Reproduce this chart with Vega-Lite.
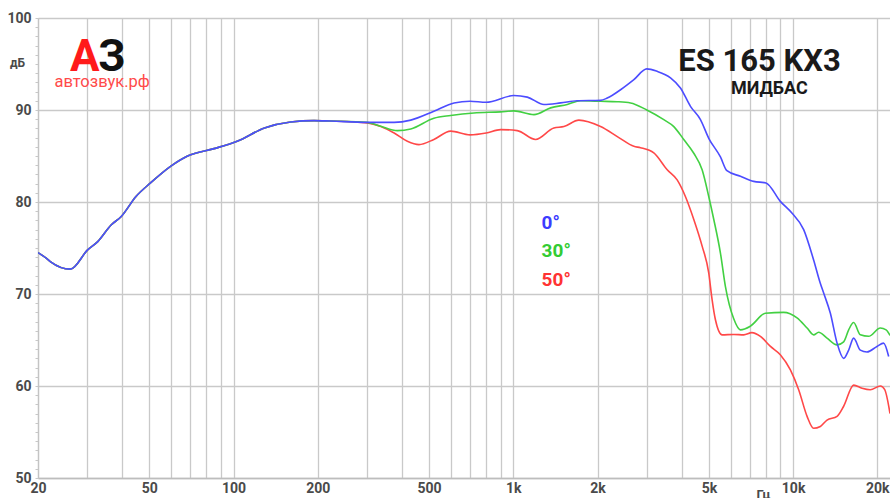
{
  "$schema": "https://vega.github.io/schema/vega-lite/v6.json",
  "width": 852,
  "height": 460,
  "autosize": {"type": "none"},
  "padding": {"left": 38, "top": 18, "right": 0, "bottom": 20},
  "background": "white",
  "config": {"view": {"stroke": null}, "font": "Roboto"},
  "datasets": {
    "deg0": [
      {"f": 20, "db": 74.5}, {"f": 21.4, "db": 73.9}, {"f": 22.2, "db": 73.5}, {"f": 26.1, "db": 72.7},
      {"f": 30.1, "db": 74.8}, {"f": 32.7, "db": 75.7}, {"f": 36.5, "db": 77.5}, {"f": 39.6, "db": 78.4},
      {"f": 44.8, "db": 80.6}, {"f": 50.6, "db": 82.1}, {"f": 59.7, "db": 83.9}, {"f": 68.5, "db": 85.0},
      {"f": 85.2, "db": 85.8}, {"f": 103, "db": 86.6}, {"f": 129, "db": 88.05}, {"f": 160, "db": 88.7},
      {"f": 194, "db": 88.85}, {"f": 222, "db": 88.8}, {"f": 300, "db": 88.66}, {"f": 375, "db": 88.66},
      {"f": 430, "db": 88.9}, {"f": 520, "db": 89.86}, {"f": 614, "db": 90.77}, {"f": 700, "db": 90.95},
      {"f": 800, "db": 90.84}, {"f": 1004, "db": 91.57}, {"f": 1122, "db": 91.4}, {"f": 1286, "db": 90.6},
      {"f": 1476, "db": 90.77}, {"f": 1692, "db": 91.0}, {"f": 2050, "db": 91.05}, {"f": 2166, "db": 91.3},
      {"f": 2417, "db": 92.2}, {"f": 2697, "db": 93.3}, {"f": 3000, "db": 94.47}, {"f": 3267, "db": 94.2},
      {"f": 3646, "db": 93.5}, {"f": 3957, "db": 92.4}, {"f": 4297, "db": 90.4}, {"f": 4665, "db": 88.96},
      {"f": 5000, "db": 86.9}, {"f": 5499, "db": 84.9}, {"f": 5800, "db": 83.4},
      {"f": 6483, "db": 82.8}, {"f": 7230, "db": 82.24}, {"f": 8000, "db": 82.07}, {"f": 9000, "db": 80.07},
      {"f": 9900, "db": 78.8}, {"f": 10910, "db": 77.0}, {"f": 11840, "db": 73.7}, {"f": 12500, "db": 71.2},
      {"f": 12860, "db": 70.1}, {"f": 13590, "db": 67.9}, {"f": 14360, "db": 64.66}, {"f": 15160, "db": 63.0},
      {"f": 15800, "db": 63.9}, {"f": 16460, "db": 65.2}, {"f": 17390, "db": 63.9}, {"f": 18370, "db": 63.7},
      {"f": 19950, "db": 64.3}, {"f": 21060, "db": 64.66}, {"f": 21960, "db": 63.2}
    ],
    "deg30": [
      {"f": 20, "db": 74.5}, {"f": 21.4, "db": 73.9}, {"f": 22.2, "db": 73.5}, {"f": 26.1, "db": 72.7},
      {"f": 30.1, "db": 74.8}, {"f": 32.7, "db": 75.7}, {"f": 36.5, "db": 77.5}, {"f": 39.6, "db": 78.4},
      {"f": 44.8, "db": 80.6}, {"f": 50.6, "db": 82.1}, {"f": 59.7, "db": 83.9}, {"f": 68.5, "db": 85.0},
      {"f": 85.2, "db": 85.8}, {"f": 103, "db": 86.6}, {"f": 129, "db": 88.05}, {"f": 160, "db": 88.7},
      {"f": 194, "db": 88.85}, {"f": 222, "db": 88.8}, {"f": 300, "db": 88.66}, {"f": 336, "db": 88.23},
      {"f": 385, "db": 87.76}, {"f": 430, "db": 87.94}, {"f": 520, "db": 89.1}, {"f": 597, "db": 89.4},
      {"f": 723, "db": 89.68}, {"f": 901, "db": 89.8}, {"f": 1004, "db": 89.9}, {"f": 1185, "db": 89.5},
      {"f": 1359, "db": 90.23}, {"f": 1559, "db": 90.6}, {"f": 1738, "db": 91.0}, {"f": 2050, "db": 90.95},
      {"f": 2350, "db": 90.9}, {"f": 2624, "db": 90.77}, {"f": 3000, "db": 90.0}, {"f": 3450, "db": 88.95},
      {"f": 3746, "db": 88.2}, {"f": 4066, "db": 86.8}, {"f": 4416, "db": 85.3}, {"f": 4730, "db": 83.5},
      {"f": 4994, "db": 80.6}, {"f": 5206, "db": 78.1}, {"f": 5499, "db": 74.45}, {"f": 5730, "db": 70.8},
      {"f": 6135, "db": 67.3}, {"f": 6483, "db": 66.1},
      {"f": 7034, "db": 66.5}, {"f": 7960, "db": 67.9}, {"f": 9250, "db": 68.0}, {"f": 10330, "db": 67.4},
      {"f": 11220, "db": 66.3}, {"f": 11840, "db": 65.56}, {"f": 12340, "db": 65.85}, {"f": 13220, "db": 65.2},
      {"f": 14360, "db": 64.47}, {"f": 15160, "db": 64.8}, {"f": 15800, "db": 66.1}, {"f": 16460, "db": 66.9},
      {"f": 17390, "db": 65.56}, {"f": 18620, "db": 65.4}, {"f": 20500, "db": 66.3}, {"f": 21500, "db": 66.1},
      {"f": 22200, "db": 65.5}
    ],
    "deg50": [
      {"f": 20, "db": 74.5}, {"f": 21.4, "db": 73.9}, {"f": 22.2, "db": 73.5}, {"f": 26.1, "db": 72.7},
      {"f": 30.1, "db": 74.8}, {"f": 32.7, "db": 75.7}, {"f": 36.5, "db": 77.5}, {"f": 39.6, "db": 78.4},
      {"f": 44.8, "db": 80.6}, {"f": 50.6, "db": 82.1}, {"f": 59.7, "db": 83.9}, {"f": 68.5, "db": 85.0},
      {"f": 85.2, "db": 85.8}, {"f": 103, "db": 86.6}, {"f": 129, "db": 88.05}, {"f": 160, "db": 88.7},
      {"f": 194, "db": 88.85}, {"f": 222, "db": 88.8}, {"f": 300, "db": 88.6}, {"f": 336, "db": 88.2},
      {"f": 375, "db": 87.5}, {"f": 418, "db": 86.6}, {"f": 460, "db": 86.24}, {"f": 520, "db": 86.8},
      {"f": 597, "db": 87.7}, {"f": 700, "db": 87.3}, {"f": 800, "db": 87.5}, {"f": 901, "db": 87.87},
      {"f": 1033, "db": 87.76}, {"f": 1201, "db": 86.8}, {"f": 1396, "db": 88.05}, {"f": 1517, "db": 88.2},
      {"f": 1715, "db": 88.9}, {"f": 2050, "db": 88.2}, {"f": 2383, "db": 87.0}, {"f": 2697, "db": 86.05},
      {"f": 2848, "db": 85.9}, {"f": 3178, "db": 85.33}, {"f": 3548, "db": 83.5}, {"f": 3851, "db": 82.4},
      {"f": 4121, "db": 80.6}, {"f": 4416, "db": 78.1}, {"f": 4730, "db": 75.2}, {"f": 4994, "db": 72.3},
      {"f": 5134, "db": 69.4}, {"f": 5277, "db": 67.2}, {"f": 5576, "db": 65.56}, {"f": 6135, "db": 65.6}, {"f": 6660, "db": 65.56},
      {"f": 7120, "db": 65.8}, {"f": 7640, "db": 65.4}, {"f": 8300, "db": 64.3}, {"f": 9000, "db": 63.4},
      {"f": 9780, "db": 61.75}, {"f": 10470, "db": 59.6}, {"f": 11220, "db": 56.7}, {"f": 11840, "db": 55.4},
      {"f": 12510, "db": 55.6}, {"f": 13220, "db": 56.3}, {"f": 14360, "db": 56.7}, {"f": 15160, "db": 57.8},
      {"f": 16460, "db": 60.1}, {"f": 17640, "db": 59.76}, {"f": 18880, "db": 59.6}, {"f": 20500, "db": 60.0},
      {"f": 21260, "db": 59.6}, {"f": 22200, "db": 57.0}
    ],
    "one": [{}]
  },
  "layer": [
    {
      "data": {"name": "deg50"},
      "mark": {"type": "line", "color": "#ff4848", "strokeWidth": 1.6, "interpolate": "monotone", "clip": true},
      "encoding": {
        "x": {
          "field": "f", "type": "quantitative",
          "scale": {"type": "log", "domain": [20, 22200], "nice": false},
          "axis": {
            "values": [20, 30, 40, 50, 60, 70, 80, 90, 100, 200, 300, 400, 500, 600, 700, 800, 900, 1000, 2000, 3000, 4000, 5000, 6000, 7000, 8000, 9000, 10000, 20000],
            "tickCount": 1000,
            "labelExpr": "indexof([20,50,100,200,500], datum.value) >= 0 ? '' + datum.value : (indexof([1000,2000,5000,10000,20000], datum.value) >= 0 ? (datum.value/1000) + 'k' : '')",
            "labelOverlap": false,
            "labelBound": false,
            "labelFlush": false,
            "labelFont": "Roboto",
            "labelFontSize": 14,
            "labelFontWeight": "bold",
            "labelColor": "#4a4a4a",
            "labelPadding": 3,
            "ticks": false,
            "grid": true,
            "gridColor": "#c9c9c9",
            "gridWidth": 1.3,
            "domainColor": "#bdbdbd",
            "domainWidth": 1.5,
            "title": "Гц",
            "titleFont": "Roboto",
            "titleFontSize": 13,
            "titleFontWeight": "bold",
            "titleColor": "#4a4a4a",
            "titleX": 725,
            "titleY": 10,
            "titleAlign": "center",
            "titleBaseline": "top"
          }
        },
        "y": {
          "field": "db", "type": "quantitative",
          "scale": {"domain": [50, 100], "nice": false, "zero": false},
          "axis": {
            "values": [50, 51, 52, 53, 54, 55, 56, 57, 58, 59, 60, 61, 62, 63, 64, 65, 66, 67, 68, 69, 70, 71, 72, 73, 74, 75, 76, 77, 78, 79, 80, 81, 82, 83, 84, 85, 86, 87, 88, 89, 90, 91, 92, 93, 94, 95, 96, 97, 98, 99, 100],
            "tickCount": 1000,
            "labelExpr": "datum.value % 10 === 0 ? '' + datum.value : ''",
            "labelOverlap": false,
            "labelBound": false,
            "labelFont": "Roboto",
            "labelFontSize": 14,
            "labelFontWeight": "bold",
            "labelColor": "#4a4a4a",
            "labelPadding": 4,
            "ticks": true,
            "tickSize": 3,
            "tickColor": "#c8c8c8",
            "tickWidth": 1,
            "grid": true,
            "gridColor": "#c9c9c9",
            "gridWidth": 1.3,
            "gridOpacity": {"condition": {"test": "datum.value % 10 === 0", "value": 1}, "value": 0},
            "domainColor": "#c4c4c4",
            "domainWidth": 1.2,
            "title": "дБ",
            "titleFont": "Roboto",
            "titleFontSize": 12,
            "titleFontWeight": "bold",
            "titleColor": "#4a4a4a",
            "titleAngle": 0,
            "titleX": -21,
            "titleY": 44,
            "titleAlign": "center",
            "titleBaseline": "middle"
          }
        }
      }
    },
    {
      "data": {"name": "deg30"},
      "mark": {"type": "line", "color": "#42d042", "strokeWidth": 1.6, "interpolate": "monotone", "clip": true},
      "encoding": {
        "x": {"field": "f", "type": "quantitative"},
        "y": {"field": "db", "type": "quantitative"}
      }
    },
    {
      "data": {"name": "deg0"},
      "mark": {"type": "line", "color": "#4c4cff", "strokeWidth": 1.6, "interpolate": "monotone", "clip": true},
      "encoding": {
        "x": {"field": "f", "type": "quantitative"},
        "y": {"field": "db", "type": "quantitative"}
      }
    },
    {
      "data": {"name": "one"},
      "mark": {"type": "text", "text": "0°", "font": "Roboto", "fontSize": 19, "fontWeight": "bold", "color": "#3c3cff", "align": "left", "baseline": "middle"},
      "encoding": {"x": {"datum": 1262, "type": "quantitative"}, "y": {"datum": 77.72, "type": "quantitative"}}
    },
    {
      "data": {"name": "one"},
      "mark": {"type": "text", "text": "30°", "font": "Roboto", "fontSize": 19, "fontWeight": "bold", "color": "#33cc33", "align": "left", "baseline": "middle"},
      "encoding": {"x": {"datum": 1262, "type": "quantitative"}, "y": {"datum": 74.63, "type": "quantitative"}}
    },
    {
      "data": {"name": "one"},
      "mark": {"type": "text", "text": "50°", "font": "Roboto", "fontSize": 19, "fontWeight": "bold", "color": "#ff3333", "align": "left", "baseline": "middle"},
      "encoding": {"x": {"datum": 1262, "type": "quantitative"}, "y": {"datum": 71.55, "type": "quantitative"}}
    },
    {
      "data": {"name": "one"},
      "mark": {"type": "text", "text": "ES 165 KX3", "font": "Roboto", "fontSize": 31, "fontWeight": "bold", "color": "#1a1a1a", "align": "center", "baseline": "middle"},
      "encoding": {"x": {"datum": 7580, "type": "quantitative"}, "y": {"datum": 95.21, "type": "quantitative"}}
    },
    {
      "data": {"name": "one"},
      "mark": {"type": "text", "text": "МИДБАС", "font": "Roboto", "fontSize": 18, "fontWeight": "bold", "color": "#1a1a1a", "align": "center", "baseline": "middle"},
      "encoding": {"x": {"datum": 8225, "type": "quantitative"}, "y": {"datum": 92.3, "type": "quantitative"}}
    },
    {
      "data": {"name": "one"},
      "mark": {"type": "text", "text": "З", "font": "Roboto", "fontSize": 44, "fontWeight": "bold", "color": "#111111", "align": "center", "baseline": "alphabetic"},
      "encoding": {"x": {"datum": 36.75, "type": "quantitative"}, "y": {"datum": 94.23, "type": "quantitative"}}
    },
    {
      "data": {"name": "one"},
      "mark": {"type": "text", "text": "А", "font": "Roboto", "fontSize": 44, "fontWeight": "bold", "color": "#ff1a1a", "align": "center", "baseline": "alphabetic"},
      "encoding": {"x": {"datum": 29.4, "type": "quantitative"}, "y": {"datum": 94.23, "type": "quantitative"}}
    },
    {
      "data": {"name": "one"},
      "mark": {"type": "text", "text": "автозвук.рф", "font": "Roboto", "fontSize": 16.5, "color": "#ff4a4a", "align": "center", "baseline": "alphabetic"},
      "encoding": {"x": {"datum": 33.9, "type": "quantitative"}, "y": {"datum": 92.55, "type": "quantitative"}}
    }
  ]
}
